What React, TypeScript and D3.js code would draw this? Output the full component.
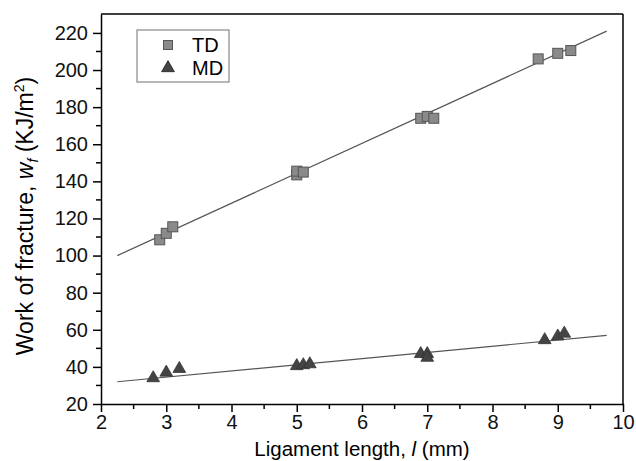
import { useRef, useEffect } from "react";
import * as d3 from "d3";

// TD points (ligament length mm, work of fracture kJ/m2)
const tdX = [2.9, 3.0, 3.1, 5.0, 5.0, 5.1, 6.9, 7.0, 7.1, 8.7, 9.0, 9.2];
const tdY = [108.5, 112, 115.5, 143.5, 145.5, 145, 174, 175, 174, 206, 209, 210.5];
// MD points
const mdX = [2.8, 3.0, 3.2, 5.0, 5.1, 5.2, 6.9, 7.0, 7.0, 8.8, 9.0, 9.1];
const mdY = [34, 37, 39, 40.5, 41, 41.5, 47, 47, 45, 54.5, 56.5, 58];
// linear fits: [intercept, slope]
const tdFit = [63.7, 16.13];
const mdFit = [24.5, 3.33];
const fitRange = [2.25, 9.75];

const xTicks = [2, 3, 4, 5, 6, 7, 8, 9, 10];
const yTicks = [20, 40, 60, 80, 100, 120, 140, 160, 180, 200, 220];

export default function App() {
  const svgRef = useRef<SVGSVGElement>(null);

  useEffect(() => {
    const width = 636;
    const height = 461;
    const m = { left: 101, right: 623, top: 14, bottom: 404 };
    const svg = d3.select(svgRef.current).attr("width", width).attr("height", height);
    svg.selectAll("*").remove();
    const font = "Liberation Sans, Arial, sans-serif";

    const x = d3.scaleLinear().domain([2, 10]).range([m.left, m.right]);
    const y = d3.scaleLinear().domain([20, 230.2]).range([m.bottom, m.top]);

    // minor ticks
    const xMinor = d3.range(2.5, 10, 1);
    const yMinor = d3.range(30, 230, 20);

    const xAxis = svg.append("g").attr("transform", `translate(0,${m.bottom})`);
    xAxis.call(d3.axisBottom(x).tickValues(xTicks).tickSize(8).tickSizeOuter(0).tickPadding(3).tickFormat(d3.format("d")));
    xMinor.forEach((v) => {
      xAxis.append("line")
        .attr("x1", x(v)).attr("x2", x(v))
        .attr("y1", 0).attr("y2", 5)
        .attr("stroke", "#000").attr("stroke-width", 1.5);
    });

    const yAxis = svg.append("g").attr("transform", `translate(${m.left},0)`);
    yAxis.call(d3.axisLeft(y).tickValues(yTicks).tickSize(8).tickSizeOuter(0).tickPadding(5));
    yMinor.forEach((v) => {
      yAxis.append("line")
        .attr("x1", 0).attr("x2", -5)
        .attr("y1", y(v)).attr("y2", y(v))
        .attr("stroke", "#000").attr("stroke-width", 1.5);
    });

    svg.selectAll(".domain").attr("stroke-width", 1.5);
    svg.selectAll(".tick line").attr("stroke-width", 1.5);
    svg.selectAll(".tick text").attr("font-family", font).attr("font-size", 20).attr("fill", "#111");

    // frame top/right
    svg.append("line").attr("x1", m.left).attr("x2", m.right).attr("y1", m.top).attr("y2", m.top)
      .attr("stroke", "#000").attr("stroke-width", 1.5);
    svg.append("line").attr("x1", m.right).attr("x2", m.right).attr("y1", m.top).attr("y2", m.bottom)
      .attr("stroke", "#000").attr("stroke-width", 1.5);

    // fit lines
    [tdFit, mdFit].forEach((f) => {
      svg.append("path")
        .attr("d", d3.line<number>().x((d) => x(d)).y((d) => y(f[0] + f[1] * d))(fitRange))
        .attr("fill", "none")
        .attr("stroke", "#555")
        .attr("stroke-width", 1.2);
    });

    // TD squares
    const s = 10;
    svg.append("g").selectAll("rect")
      .data(tdX.map((v, i) => [v, tdY[i]]))
      .join("rect")
      .attr("x", (d) => x(d[0]) - s / 2)
      .attr("y", (d) => y(d[1]) - s / 2)
      .attr("width", s).attr("height", s)
      .attr("fill", "#8a8a8a").attr("stroke", "#555").attr("stroke-width", 1);

    // MD triangles
    const tri = d3.symbol().type(d3.symbolTriangle).size(70);
    svg.append("g").selectAll("path")
      .data(mdX.map((v, i) => [v, mdY[i]]))
      .join("path")
      .attr("d", tri)
      .attr("transform", (d) => `translate(${x(d[0])},${y(d[1])})`)
      .attr("fill", "#444").attr("stroke", "#333").attr("stroke-width", 0.8);

    // legend
    const lg = svg.append("g");
    lg.append("rect").attr("x", 137).attr("y", 30).attr("width", 92).attr("height", 52)
      .attr("fill", "white").attr("stroke", "#888").attr("stroke-width", 1.2);
    lg.append("rect").attr("x", 168 - 4.5).attr("y", 45 - 4.5).attr("width", 9).attr("height", 9)
      .attr("fill", "#8a8a8a").attr("stroke", "#555");
    lg.append("path").attr("d", tri).attr("transform", "translate(168,68)").attr("fill", "#444").attr("stroke", "#333");
    lg.append("text").attr("x", 192).attr("y", 52).text("TD")
      .attr("font-family", font).attr("font-size", 20);
    lg.append("text").attr("x", 192).attr("y", 75).text("MD")
      .attr("font-family", font).attr("font-size", 20);

    // axis labels
    svg.append("text").attr("x", (m.left + m.right) / 2).attr("y", 456)
      .attr("text-anchor", "middle").attr("font-family", font).attr("font-size", 20.5)
      .html('Ligament length, <tspan font-style="italic">l</tspan> (mm)');

    const yl = svg.append("text")
      .attr("transform", `translate(33,216) rotate(-90)`)
      .attr("text-anchor", "middle").attr("font-family", font).attr("font-size", 23);
    yl.append("tspan").text("Work of fracture, ");
    yl.append("tspan").attr("font-style", "italic").text("w");
    yl.append("tspan").attr("font-style", "italic").attr("font-size", 14).attr("dy", 5).text("f");
    yl.append("tspan").attr("dy", -5).text(" (KJ/m");
    yl.append("tspan").attr("font-size", 14).attr("dy", -9).text("2");
    yl.append("tspan").attr("dy", 9).text(")");
  }, []);

  return <svg ref={svgRef} style={{ position: "absolute", left: 0, top: 0 }}></svg>;
}
